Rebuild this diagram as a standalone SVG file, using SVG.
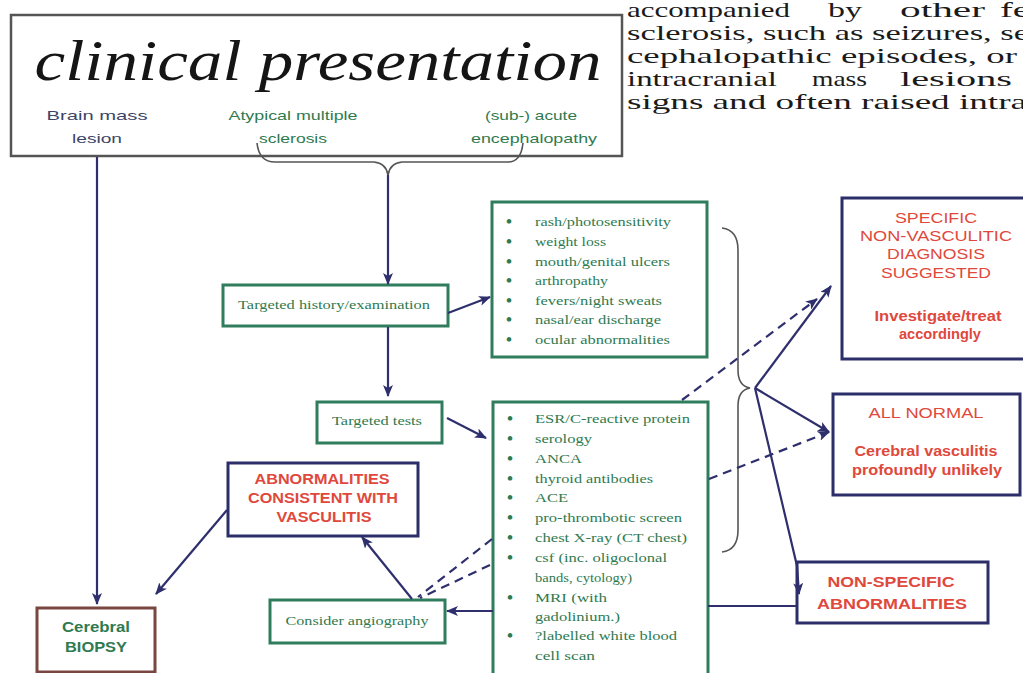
<svg xmlns="http://www.w3.org/2000/svg" width="1023" height="673" viewBox="0 0 1023 673">
<defs>
<style>
.bg{fill:#ffffff}
.gbox{fill:#ffffff;stroke:#2f7d5c;stroke-width:3}
.nbox{fill:#ffffff;stroke:#2c2e6a;stroke-width:3}
.bbox{fill:#ffffff;stroke:#7a4640;stroke-width:3}
.tbox{fill:#ffffff;stroke:#555;stroke-width:2.5}
.ser{font-family:"Liberation Serif","Times New Roman",serif}
.san{font-family:"Liberation Sans",Arial,sans-serif}
.gt{fill:#2f7a50;font-size:13px}
.bul{font-size:17px;font-weight:bold}
.rt{fill:#e0483c;font-size:14px;font-weight:bold;text-anchor:middle}
.rr{fill:#e0483c;font-size:14px;text-anchor:middle}
.body{fill:#1a1a1a;font-size:22px}
.con{fill:none;stroke:#2e2f6c;stroke-width:2.2}
.dash{fill:none;stroke:#2e2f6c;stroke-width:2.2;stroke-dasharray:9 6}
.brace{fill:none;stroke:#555;stroke-width:1.6}
</style>
<marker id="ah" viewBox="0 0 12 10" refX="11" refY="5" markerWidth="12" markerHeight="10" markerUnits="userSpaceOnUse" orient="auto">
<path d="M0,0 L12,5 L0,10 L3,5 z" fill="#2e2f6c"/>
</marker>
</defs>
<rect class="bg" x="0" y="0" width="1023" height="673"/>

<g id="paper-text" class="ser body">
<text x="627" y="17" textLength="163" lengthAdjust="spacingAndGlyphs">accompanied</text>
<text x="828" y="17" textLength="34" lengthAdjust="spacingAndGlyphs">by</text>
<text x="900" y="17" textLength="85" lengthAdjust="spacingAndGlyphs">other</text>
<text x="1000" y="17" textLength="30" lengthAdjust="spacingAndGlyphs">fe</text>
<text x="627" y="40" textLength="402" lengthAdjust="spacingAndGlyphs">sclerosis, such as seizures, se</text>
<text x="627" y="63" textLength="390" lengthAdjust="spacingAndGlyphs">cephalopathic episodes, or</text>
<text x="612" y="86" font-size="18">•</text>
<text x="627" y="86" textLength="150" lengthAdjust="spacingAndGlyphs">intracranial</text>
<text x="812" y="86" textLength="55" lengthAdjust="spacingAndGlyphs">mass</text>
<text x="900" y="86" textLength="112" lengthAdjust="spacingAndGlyphs">lesions</text>
<text x="627" y="109" textLength="400" lengthAdjust="spacingAndGlyphs">signs and often raised intra</text>
</g>

<g id="clinical-presentation">
<rect class="tbox" x="11" y="15" width="611" height="141"/>
<text class="ser" x="318" y="80" font-size="58" font-style="italic" fill="#151515" text-anchor="middle" textLength="567" lengthAdjust="spacingAndGlyphs">clinical presentation</text>
<g class="san" font-size="13.5" text-anchor="middle">
<text x="97" y="120" fill="#3d4466" textLength="101" lengthAdjust="spacingAndGlyphs">Brain mass</text>
<text x="97" y="143" fill="#3d4466" textLength="50" lengthAdjust="spacingAndGlyphs">lesion</text>
<text x="293" y="120" fill="#2f7a50" textLength="129" lengthAdjust="spacingAndGlyphs">Atypical multiple</text>
<text x="293" y="143" fill="#2f7a50" textLength="68" lengthAdjust="spacingAndGlyphs">sclerosis</text>
<text x="531" y="120" fill="#2f7a50" textLength="92" lengthAdjust="spacingAndGlyphs">(sub-) acute</text>
<text x="534" y="143" fill="#2f7a50" textLength="126" lengthAdjust="spacingAndGlyphs">encephalopathy</text>
</g>
</g>

<g id="history">
<rect class="gbox" x="223" y="285" width="225" height="41"/>
<text class="ser gt" x="334" y="309" text-anchor="middle" textLength="192" lengthAdjust="spacingAndGlyphs">Targeted history/examination</text>
</g>

<g id="tests">
<rect class="gbox" x="317" y="402" width="125" height="41"/>
<text class="ser gt" x="377" y="425" text-anchor="middle" textLength="90" lengthAdjust="spacingAndGlyphs">Targeted tests</text>
</g>

<g id="symptoms" class="ser gt">
<rect class="gbox" x="492" y="202" width="215" height="155"/>
<g class="bul">
<text x="506" y="227">•</text><text x="506" y="247">•</text><text x="506" y="267">•</text><text x="506" y="286">•</text><text x="506" y="306">•</text><text x="506" y="325">•</text><text x="506" y="345">•</text>
</g>
<text x="535" y="226" textLength="136" lengthAdjust="spacingAndGlyphs">rash/photosensitivity</text>
<text x="535" y="246" textLength="71" lengthAdjust="spacingAndGlyphs">weight loss</text>
<text x="535" y="266" textLength="135" lengthAdjust="spacingAndGlyphs">mouth/genital ulcers</text>
<text x="535" y="285" textLength="73" lengthAdjust="spacingAndGlyphs">arthropathy</text>
<text x="535" y="305" textLength="127" lengthAdjust="spacingAndGlyphs">fevers/night sweats</text>
<text x="535" y="324" textLength="126" lengthAdjust="spacingAndGlyphs">nasal/ear discharge</text>
<text x="535" y="344" textLength="135" lengthAdjust="spacingAndGlyphs">ocular abnormalities</text>
</g>

<g id="test-list" class="ser gt">
<rect class="gbox" x="493" y="402" width="215" height="290"/>
<g class="bul">
<text x="507" y="424">•</text><text x="507" y="444">•</text><text x="507" y="464">•</text><text x="507" y="484">•</text><text x="507" y="503">•</text><text x="507" y="523">•</text><text x="507" y="543">•</text><text x="507" y="563">•</text><text x="507" y="603">•</text><text x="507" y="641">•</text>
</g>
<text x="535" y="423" textLength="155" lengthAdjust="spacingAndGlyphs">ESR/C-reactive protein</text>
<text x="535" y="443" textLength="57" lengthAdjust="spacingAndGlyphs">serology</text>
<text x="535" y="463" textLength="47" lengthAdjust="spacingAndGlyphs">ANCA</text>
<text x="535" y="483" textLength="118" lengthAdjust="spacingAndGlyphs">thyroid antibodies</text>
<text x="535" y="502" textLength="33" lengthAdjust="spacingAndGlyphs">ACE</text>
<text x="535" y="522" textLength="147" lengthAdjust="spacingAndGlyphs">pro-thrombotic screen</text>
<text x="535" y="542" textLength="152" lengthAdjust="spacingAndGlyphs">chest X-ray (CT chest)</text>
<text x="535" y="562" textLength="132" lengthAdjust="spacingAndGlyphs">csf (inc. oligoclonal</text>
<text x="535" y="582" textLength="97" lengthAdjust="spacingAndGlyphs">bands, cytology)</text>
<text x="535" y="602" textLength="72" lengthAdjust="spacingAndGlyphs">MRI (with</text>
<text x="535" y="621" textLength="85" lengthAdjust="spacingAndGlyphs">gadolinium.)</text>
<text x="535" y="640" textLength="142" lengthAdjust="spacingAndGlyphs">?labelled white blood</text>
<text x="535" y="660" textLength="60" lengthAdjust="spacingAndGlyphs">cell scan</text>
</g>

<g id="specific">
<rect class="nbox" x="842" y="198" width="196" height="161"/>
<g class="san">
<text class="rr" x="936" y="223" textLength="82" lengthAdjust="spacingAndGlyphs">SPECIFIC</text>
<text class="rr" x="936" y="241" textLength="152" lengthAdjust="spacingAndGlyphs">NON-VASCULITIC</text>
<text class="rr" x="936" y="259" textLength="98" lengthAdjust="spacingAndGlyphs">DIAGNOSIS</text>
<text class="rr" x="936" y="278" textLength="110" lengthAdjust="spacingAndGlyphs">SUGGESTED</text>
<text class="rt" x="938" y="321" font-size="12" textLength="127" lengthAdjust="spacingAndGlyphs">Investigate/treat</text>
<text class="rt" x="940" y="339" font-size="12" textLength="82" lengthAdjust="spacingAndGlyphs">accordingly</text>
</g>
</g>

<g id="all-normal">
<rect class="nbox" x="833" y="394" width="187" height="101"/>
<g class="san">
<text class="rr" x="926" y="418" textLength="115" lengthAdjust="spacingAndGlyphs">ALL NORMAL</text>
<text class="rt" x="926" y="456" font-size="12" textLength="143" lengthAdjust="spacingAndGlyphs">Cerebral vasculitis</text>
<text class="rt" x="927" y="475" font-size="12" textLength="150" lengthAdjust="spacingAndGlyphs">profoundly unlikely</text>
</g>
</g>

<g id="non-specific">
<rect class="nbox" x="797" y="562" width="191" height="61"/>
<g class="san">
<text class="rt" x="891" y="587" textLength="127" lengthAdjust="spacingAndGlyphs">NON-SPECIFIC</text>
<text class="rt" x="892" y="609" textLength="150" lengthAdjust="spacingAndGlyphs">ABNORMALITIES</text>
</g>
</g>

<g id="consistent">
<rect class="nbox" x="228" y="463" width="190" height="73"/>
<g class="san">
<text class="rt" x="322" y="484" textLength="135" lengthAdjust="spacingAndGlyphs">ABNORMALITIES</text>
<text class="rt" x="323" y="503" textLength="150" lengthAdjust="spacingAndGlyphs">CONSISTENT WITH</text>
<text class="rt" x="324" y="522" textLength="95" lengthAdjust="spacingAndGlyphs">VASCULITIS</text>
</g>
</g>

<g id="angiography">
<rect class="gbox" x="270" y="600" width="175" height="43"/>
<text class="ser gt" x="357" y="625" text-anchor="middle" textLength="143" lengthAdjust="spacingAndGlyphs">Consider angiography</text>
</g>

<g id="biopsy">
<rect class="bbox" x="37" y="608" width="118" height="64"/>
<g class="san" fill="#2f7a50" font-weight="bold" font-size="14" text-anchor="middle">
<text x="96" y="632" textLength="68" lengthAdjust="spacingAndGlyphs">Cerebral</text>
<text x="96" y="652" textLength="62" lengthAdjust="spacingAndGlyphs">BIOPSY</text>
</g>
</g>

<g id="connectors">
<path class="brace" d="M257,143 Q259,162 275,162 L374,162 Q386,163 388,175 Q390,163 402,162 L508,162 Q521,162 523,143"/>
<path class="brace" d="M722,228 Q738,230 738,250 L738,370 Q738,386 750,388 Q738,390 738,406 L738,530 Q738,550 722,552"/>
<line class="con" x1="388" y1="175" x2="388" y2="284" marker-end="url(#ah)"/>
<line class="con" x1="97" y1="157" x2="97" y2="604" marker-end="url(#ah)"/>
<line class="con" x1="448" y1="313" x2="490" y2="297" marker-end="url(#ah)"/>
<line class="con" x1="388" y1="327" x2="388" y2="396" marker-end="url(#ah)"/>
<line class="con" x1="447" y1="418" x2="486" y2="438" marker-end="url(#ah)"/>
<line class="con" x1="755" y1="388" x2="831" y2="286" marker-end="url(#ah)"/>
<line class="con" x1="755" y1="388" x2="829" y2="432" marker-end="url(#ah)"/>
<polyline class="con" points="755,388 797,566 799,594" marker-end="url(#ah)"/>
<line class="dash" x1="682" y1="400" x2="817" y2="299" marker-end="url(#ah)"/>
<line class="dash" x1="709" y1="479" x2="829" y2="432" marker-end="url(#ah)"/>
<line class="dash" x1="492" y1="539" x2="418" y2="597"/>
<line class="dash" x1="490" y1="565" x2="420" y2="598"/>
<line class="con" x1="493" y1="611" x2="447" y2="611" marker-end="url(#ah)"/>
<line class="con" x1="708" y1="606" x2="797" y2="606"/>
<line class="con" x1="412" y1="599" x2="362" y2="537" marker-end="url(#ah)"/>
<line class="con" x1="227" y1="510" x2="156" y2="594" marker-end="url(#ah)"/>
</g>
</svg>
